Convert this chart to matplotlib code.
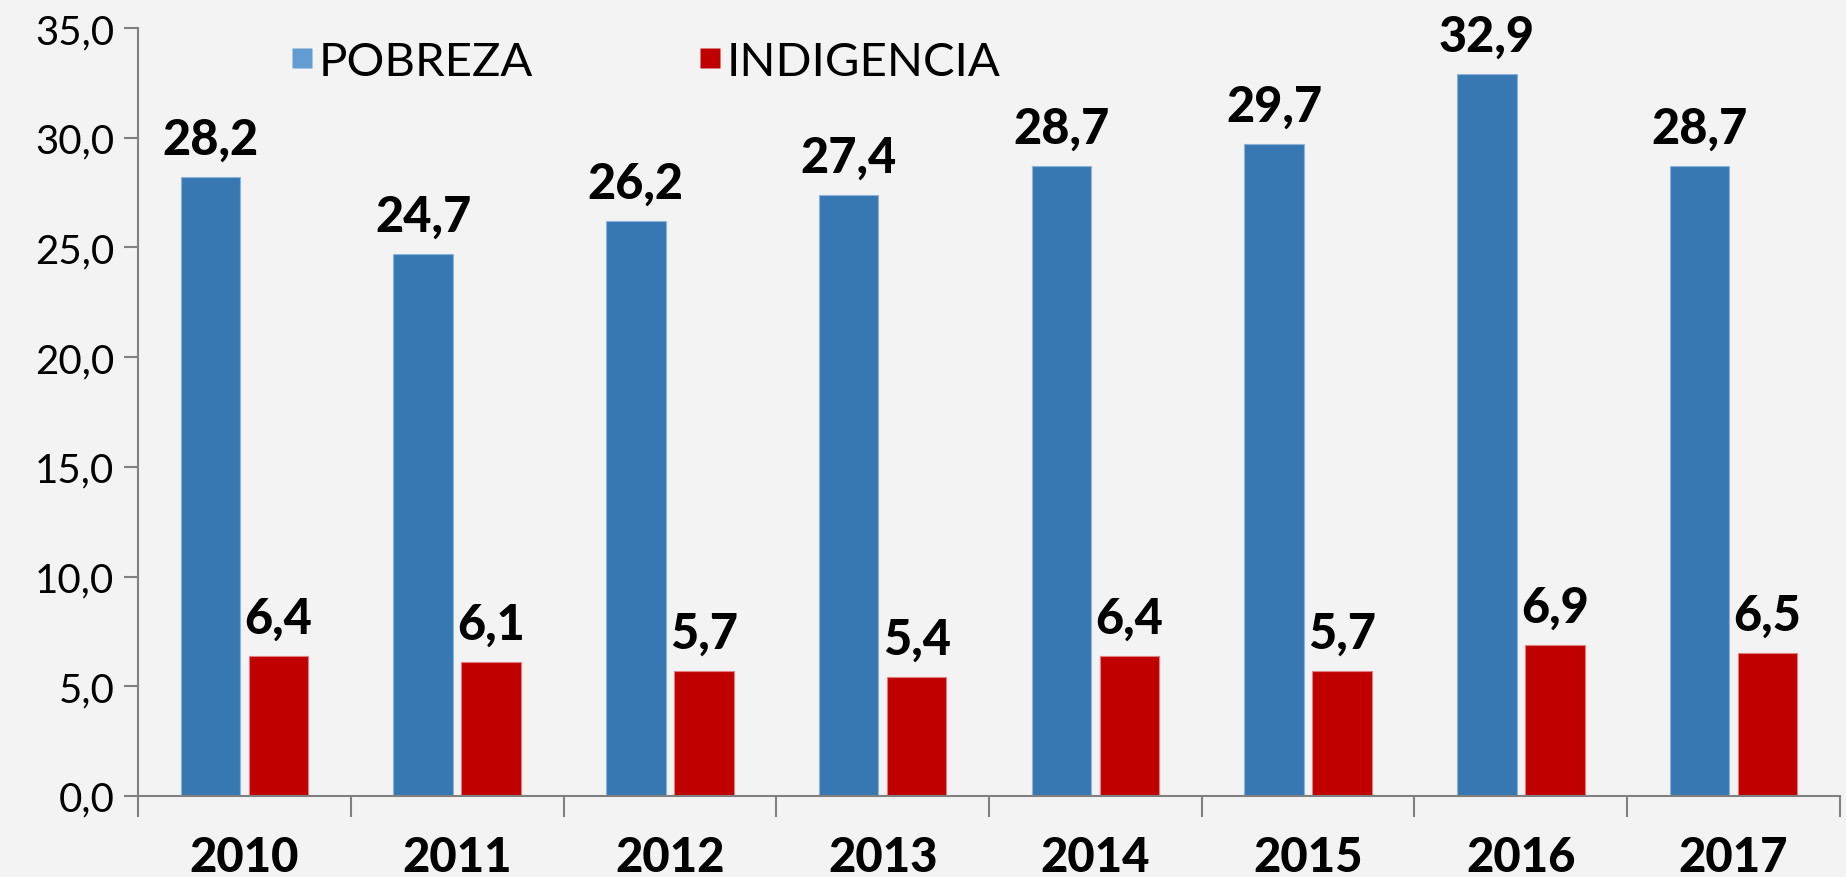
import matplotlib
matplotlib.use("Agg")
import matplotlib.pyplot as plt
import numpy as np
from matplotlib.lines import Line2D

years = ["2010", "2011", "2012", "2013", "2014", "2015", "2016", "2017"]
pobreza = [28.2, 24.7, 26.2, 27.4, 28.7, 29.7, 32.9, 28.7]
indigencia = [6.4, 6.1, 5.7, 5.4, 6.4, 5.7, 6.9, 6.5]
series_names = ["POBREZA", "INDIGENCIA"]
yticks = [0, 5, 10, 15, 20, 25, 30, 35]

BG = "#F3F3F3"
BLUE = "#3778B3"
BLUE_LEG = "#619DD2"
RED = "#C00000"
SPINE = "#808080"
FONT = ["Lato", "DejaVu Sans"]

plt.rcParams["font.family"] = FONT

fig = plt.figure(figsize=(18.46, 8.78), dpi=100, facecolor=BG)
ax = fig.add_axes([0.0748, 0.0923, 0.9219, 0.8747])
ax.set_facecolor(BG)

x = np.arange(len(years))
w = 0.28
off = 0.16
b1 = ax.bar(x - off, pobreza, w, color=BLUE, edgecolor="#8DB3DA", linewidth=0.8, zorder=2)
b2 = ax.bar(x + off, indigencia, w, color=RED, edgecolor="#E08080", linewidth=0.8, zorder=2)

def fmt(v):
    return f"{v:.1f}".replace(".", ",")

for bars, vals in ((b1, pobreza), (b2, indigencia)):
    for rect, v in zip(bars, vals):
        ax.annotate(fmt(v), (rect.get_x() + rect.get_width() / 2, v),
                    xytext=(0, 11), textcoords="offset points",
                    ha="center", va="bottom", fontsize=35, fontweight="black",
                    color="black")

ax.set_xlim(-0.5, len(years) - 0.5)
ax.set_ylim(0, 35)
ax.set_yticks(yticks)
ax.set_yticklabels([fmt(t) for t in yticks], fontsize=29, fontweight="normal", color="black")
ax.set_xticks(x)
ax.set_xticklabels(years, fontsize=34, fontweight="black", color="black")
ax.set_xticks(np.arange(-0.5, len(years)), minor=True)
ax.tick_params(axis="x", which="major", length=0, pad=28)
ax.tick_params(axis="x", which="minor", length=15, width=1.5, color=SPINE, direction="out")
ax.tick_params(axis="y", length=10, width=1.5, color=SPINE, pad=7)

for s in ("top", "right"):
    ax.spines[s].set_visible(False)
for s in ("left", "bottom"):
    ax.spines[s].set_color(SPINE)
    ax.spines[s].set_linewidth(1.5)

handles = [Line2D([], [], marker="s", linestyle="none", markersize=14,
                  markerfacecolor=BLUE_LEG, markeredgecolor="none"),
           Line2D([], [], marker="s", linestyle="none", markersize=14,
                  markerfacecolor=RED, markeredgecolor="none")]
leg = ax.legend(handles, series_names, loc="center", bbox_to_anchor=(0.298, 0.956),
                ncol=2, frameon=False, fontsize=34, handlelength=0.5,
                handletextpad=0.1, columnspacing=3.5)
for t in leg.get_texts():
    t.set_fontweight("normal")
    t.set_color("black")

fig.savefig("out.png", dpi=100, facecolor=BG)
